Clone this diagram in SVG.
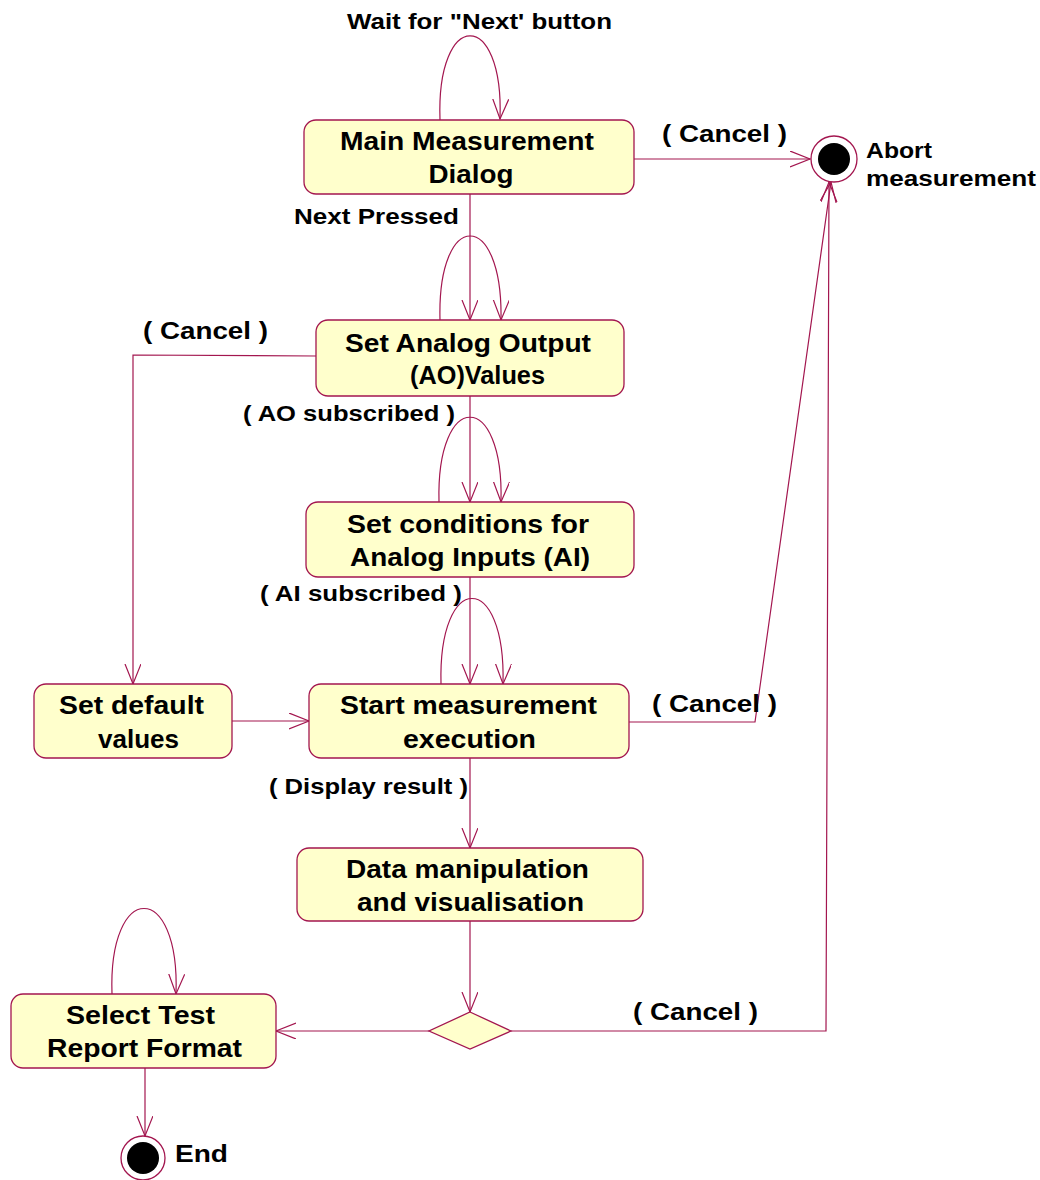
<svg xmlns="http://www.w3.org/2000/svg" width="1040" height="1180" viewBox="0 0 1040 1180">
  <defs>
    <marker id="open" markerUnits="userSpaceOnUse" markerWidth="22" markerHeight="18" refX="20" refY="8" orient="auto">
      <path d="M0,0 L20,8 L0,16" fill="none" stroke="#a3164f" stroke-width="1.2"/>
    </marker>
    <style>
      .state { fill: #ffffcc; stroke: #a3164f; stroke-width: 1.3; }
      .edge { fill: none; stroke: #a3164f; stroke-width: 1.2; marker-end: url(#open); }
      .line { fill: none; stroke: #a3164f; stroke-width: 1.2; }
      .nt { font-family: "Liberation Sans", Arial, sans-serif; font-weight: bold; font-size: 25px; fill: #000; text-anchor: middle; }
      .lb { font-family: "Liberation Sans", Arial, sans-serif; font-weight: bold; font-size: 22px; fill: #000; }
      .cl { font-family: "Liberation Sans", Arial, sans-serif; font-weight: bold; font-size: 24px; fill: #000; }
    </style>
  </defs>
  <rect width="1040" height="1180" fill="#ffffff"/>

  <!-- transitions -->
  <g id="connectors">
    <path class="edge" d="M440,120 C436,8 504,8 500,119"/>
    <path class="edge" d="M634,159 L810,159"/>
    <path class="edge" d="M470,194 L470,320"/>
    <path class="edge" d="M440,320 C437,208 503,208 501,320"/>
    <path class="edge" d="M316,356 L133,355 L133,684"/>
    <path class="edge" d="M470,396 L470,502"/>
    <path class="edge" d="M439,502 C436,389 504,389 501,502"/>
    <path class="edge" d="M470,577 L470,684"/>
    <path class="edge" d="M441,684 C438,570 506,570 503,684"/>
    <path class="edge" d="M232,721 L309,721"/>
    <path class="edge" d="M629,722 L755,722 L831,182"/>
    <path class="edge" d="M470,758 L470,848"/>
    <path class="edge" d="M470,921 L470,1012"/>
    <path class="edge" d="M429,1031 L276,1031"/>
    <path class="edge" d="M511,1031 L826,1031 L829,182"/>
    <path class="edge" d="M112,994 C108,880 180,880 176,994"/>
    <path class="edge" d="M145,1068 L145,1136"/>
  </g>

  <!-- transition labels -->
  <g id="labels">
    <text class="lb" x="347" y="29" textLength="265" lengthAdjust="spacingAndGlyphs">Wait for "Next' button</text>
    <text class="cl" x="662" y="142" textLength="125" lengthAdjust="spacingAndGlyphs">( Cancel )</text>
    <text class="lb" x="294" y="224" font-size="21" textLength="165" lengthAdjust="spacingAndGlyphs">Next Pressed</text>
    <text class="cl" x="143" y="339" textLength="125" lengthAdjust="spacingAndGlyphs">( Cancel )</text>
    <text class="lb" x="243" y="421" textLength="212" lengthAdjust="spacingAndGlyphs">( AO subscribed )</text>
    <text class="lb" x="260" y="601" textLength="202" lengthAdjust="spacingAndGlyphs">( AI subscribed )</text>
    <text class="cl" x="652" y="712" textLength="125" lengthAdjust="spacingAndGlyphs">( Cancel )</text>
    <text class="lb" x="269" y="794" textLength="199" lengthAdjust="spacingAndGlyphs">( Display result )</text>
    <text class="cl" x="633" y="1020" textLength="125" lengthAdjust="spacingAndGlyphs">( Cancel )</text>
  </g>

  <g id="main-dialog">
    <rect class="state" x="304" y="120" width="330" height="74" rx="12"/>
    <text class="nt" x="467" y="150" textLength="254" lengthAdjust="spacingAndGlyphs">Main Measurement</text>
    <text class="nt" x="471" y="183" textLength="85" lengthAdjust="spacingAndGlyphs">Dialog</text>
  </g>

  <g id="abort">
    <circle cx="834" cy="159" r="23" fill="#ffffff" stroke="#a3164f" stroke-width="1.3"/>
    <circle cx="834" cy="159" r="16" fill="#000000"/>
    <text class="lb" x="866" y="158" textLength="66" lengthAdjust="spacingAndGlyphs">Abort</text>
    <text class="lb" x="866" y="186" textLength="170" lengthAdjust="spacingAndGlyphs">measurement</text>
  </g>

  <g id="set-ao">
    <rect class="state" x="316" y="320" width="308" height="76" rx="12"/>
    <text class="nt" x="468" y="352" textLength="246" lengthAdjust="spacingAndGlyphs">Set Analog Output</text>
    <text class="nt" x="477.5" y="384" textLength="135" lengthAdjust="spacingAndGlyphs">(AO)Values</text>
  </g>

  <g id="set-ai">
    <rect class="state" x="306" y="502" width="328" height="75" rx="12"/>
    <text class="nt" x="468" y="533" textLength="242" lengthAdjust="spacingAndGlyphs">Set conditions for</text>
    <text class="nt" x="470" y="566" textLength="240" lengthAdjust="spacingAndGlyphs">Analog Inputs (AI)</text>
  </g>

  <g id="set-default">
    <rect class="state" x="34" y="684" width="198" height="74" rx="12"/>
    <text class="nt" x="131.5" y="714" textLength="145" lengthAdjust="spacingAndGlyphs">Set default</text>
    <text class="nt" x="138.5" y="748" textLength="81" lengthAdjust="spacingAndGlyphs">values</text>
  </g>

  <g id="start-measurement">
    <rect class="state" x="309" y="684" width="320" height="74" rx="12"/>
    <text class="nt" x="468.5" y="714" textLength="257" lengthAdjust="spacingAndGlyphs">Start measurement</text>
    <text class="nt" x="469.5" y="748" textLength="133" lengthAdjust="spacingAndGlyphs">execution</text>
  </g>

  <g id="data-manipulation">
    <rect class="state" x="297" y="848" width="346" height="73" rx="12"/>
    <text class="nt" x="467.5" y="878" textLength="243" lengthAdjust="spacingAndGlyphs">Data manipulation</text>
    <text class="nt" x="470.5" y="911" textLength="227" lengthAdjust="spacingAndGlyphs">and visualisation</text>
  </g>

  <g id="decision">
    <polygon points="470,1012 511,1031 470,1049 429,1031" fill="#ffffcc" stroke="#a3164f" stroke-width="1.3"/>
  </g>

  <g id="select-report">
    <rect class="state" x="11" y="994" width="265" height="74" rx="12"/>
    <text class="nt" x="140.5" y="1024" textLength="149" lengthAdjust="spacingAndGlyphs">Select Test</text>
    <text class="nt" x="144.5" y="1057" textLength="195" lengthAdjust="spacingAndGlyphs">Report Format</text>
  </g>

  <g id="end">
    <circle cx="143" cy="1158" r="22" fill="#ffffff" stroke="#a3164f" stroke-width="1.3"/>
    <circle cx="143" cy="1158" r="16" fill="#000000"/>
    <text class="cl" x="175" y="1162" textLength="53" lengthAdjust="spacingAndGlyphs">End</text>
  </g>
</svg>
